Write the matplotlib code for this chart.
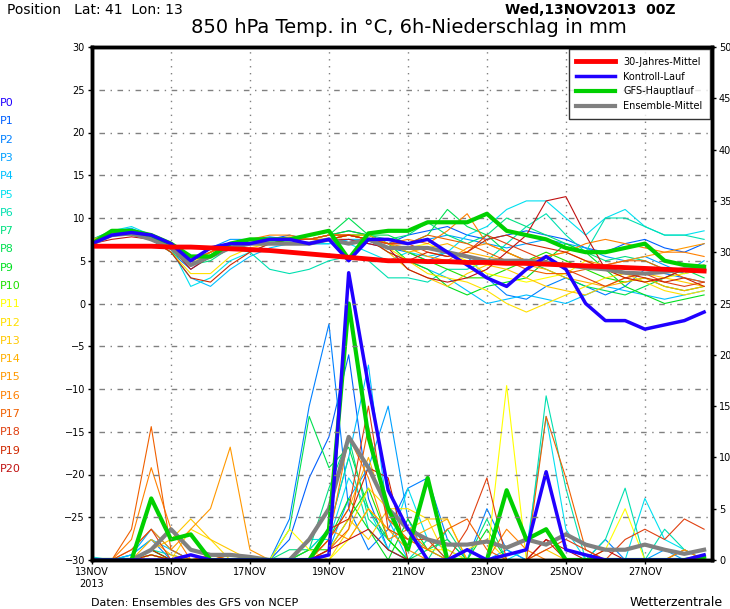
import matplotlib.pyplot as plt

tage = [i * 0.5 for i in range(32)]

klima = [6.7, 6.7, 6.7, 6.7, 6.6, 6.6, 6.5, 6.4, 6.3, 6.2, 6.0, 5.8, 5.6, 5.4, 5.2, 5.0,
         5.0, 4.9, 4.9, 4.8, 4.8, 4.7, 4.7, 4.6, 4.5, 4.4, 4.3, 4.2, 4.1, 4.0, 3.9, 3.8]
kontroll_t = [7, 8, 8.3, 8, 7, 5, 6.5, 7, 7, 7.5, 7.5, 7, 7.5, 5, 7.5, 7.5,
              7, 7.5, 6, 4.5, 3, 2, 4, 5.5, 4, 0, -2, -2, -3, -2.5, -2, -1]
gfs_t = [7, 8.5, 8.5, 8, 7, 5.5, 5.5, 7, 7.5, 7.5, 7.5, 8, 8.5, 5.2, 8.2, 8.5,
         8.5, 9.5, 9.5, 9.5, 10.5, 8.5, 8, 7.5, 6.5, 6, 6, 6.5, 7, 5, 4.5, 4.3]
mittel_t = [7, 8, 8.2, 7.5, 6.5, 4.5, 5.5, 6.5, 7, 7, 7, 7, 7.5, 7, 7.5, 6.5,
            6.5, 6.5, 6, 5.5, 5, 5, 5, 4.8, 4.5, 4.2, 4, 3.6, 3.5, 3.7, 4, 4]

member_t = [
    [7, 8.2, 8.5, 7.5, 6.5, 5, 6, 7, 7.5, 7.5, 8, 7.5, 8, 8.5, 8, 7, 8, 8.5, 9, 8, 7.5, 8, 8.5, 8, 7.5, 6.5, 6, 7, 7.5, 6.5, 6, 7],
    [7, 8, 8.3, 7.5, 6, 4, 5.5, 7, 7, 7.5, 7.5, 7, 7, 7.5, 7, 6.5, 6, 5, 6, 5.5, 3, 1, 0.5, 2, 3, 2, 1, 2, 4, 3.5, 3, 2.5],
    [7.5, 8.5, 8.8, 7.8, 6.5, 5, 6.5, 7.5, 7.5, 7.8, 7.5, 7.5, 8, 8, 7.5, 7, 7, 7.5, 8, 7.5, 7, 6.5, 7, 7.5, 7, 6.5, 5.5, 5, 5.5, 4.5, 3.5, 5],
    [7, 8, 8.5, 7.5, 6, 3, 2, 4, 5.5, 6.5, 7, 7, 7, 7.5, 7.5, 6, 5, 4, 3, 1.5, 0, 0.5, 1, 0.5, 0, 1, 2, 1.5, 1, 0.5, 1, 1.5],
    [7, 8.5, 9, 8, 6.5, 2, 3, 5, 6, 7, 7.5, 7, 7, 7, 6, 5, 6, 5.5, 6, 8, 9, 11, 12, 12, 10, 8, 10, 11, 9, 8, 8, 8.5],
    [7, 8, 8.5, 7.5, 6.5, 4.5, 5.5, 6.5, 6, 4, 3.5, 4, 5, 5.5, 5, 3, 3, 2.5, 4, 4, 5, 7, 9, 10.5, 8, 6, 10, 10, 9, 8, 8, 7.5],
    [7.5, 8.5, 8.5, 7.5, 6, 4.5, 5, 6.5, 7, 7, 7.5, 7, 7.5, 8, 8, 7.5, 8, 9.5, 8, 7, 8, 10, 9, 8, 7, 6, 5, 5.5, 5, 4, 3.5, 4],
    [7, 8, 8.5, 7.5, 6.5, 5, 5.5, 6.5, 7, 7.5, 7.5, 7.5, 8, 10, 8, 8, 7, 8, 11, 9, 8, 6, 5, 4, 3, 2, 1.5, 1, 2, 3, 4, 3],
    [7, 8, 8, 7.5, 6.5, 5, 6, 7, 7.5, 7.5, 7.5, 7.5, 8, 8.5, 8, 7, 5, 4, 2, 1, 2, 2.5, 3, 5, 7, 6, 4, 2, 1, 0, 0.5, 1],
    [7, 8.2, 8.5, 7.5, 6.5, 4.5, 5.5, 6.5, 7, 7, 7.5, 7, 7.5, 8, 8, 7, 6, 5, 4, 3, 3, 4, 5, 6, 5, 4, 3, 2.5, 3, 2, 1.5, 2],
    [7, 8, 8.5, 8, 6.5, 5, 5.5, 6.5, 7.5, 7.5, 7.5, 7.5, 8, 8, 7.5, 6.5, 6.5, 7, 6, 5, 3.5, 3, 2.5, 3, 3.5, 5, 4, 3, 2.5, 3, 3.5, 4],
    [7, 8, 8.2, 7.5, 6, 3.5, 3.5, 5.5, 6.5, 7, 7, 7, 7.5, 8, 7.5, 6.5, 5, 3.5, 3, 2.5, 1.5, 0, -1, 0, 1, 2, 3, 3.5, 2.5, 1.5, 1, 1.5],
    [7, 8, 8.5, 7.5, 6.5, 4.5, 6, 7, 7.5, 7.5, 7.5, 7.5, 7.5, 8, 7.5, 6, 4, 3, 2, 3.5, 4.5, 4, 3, 2, 1.5, 1, 2, 3, 3.5, 3, 2.5, 2],
    [7.5, 8.2, 8.5, 7.5, 6.5, 5, 6, 7, 7.5, 7.5, 7.8, 7.5, 7.5, 8, 8, 7, 6, 6.5, 7, 6, 5.5, 5, 4.5, 4, 3, 2.5, 2, 2.5, 3, 2, 1.5, 2],
    [7, 8, 8.5, 7.5, 6.5, 5, 6, 7, 7, 7.5, 7.5, 7.5, 8, 8, 7.5, 7, 6.5, 5.5, 5, 6.5, 7, 6, 5, 5.5, 6, 5, 4.5, 5, 5.5, 6, 6.5, 7],
    [7, 8.2, 8.5, 7.5, 6.5, 5, 6, 7, 7.5, 8, 8, 7.5, 8, 8, 7.5, 7, 7.5, 7, 8.5, 10.5, 7, 6, 5, 5.5, 6, 7, 7.5, 7, 6.5, 6, 6, 5.5],
    [7, 8, 8.2, 7.5, 6.5, 5, 6, 7, 7.5, 7.5, 7.5, 7.5, 7.5, 8, 7.5, 7, 7, 8, 7.5, 7, 6, 5, 4, 3.5, 3.5, 4, 4.5, 5, 5, 4, 3, 2.5],
    [7, 8, 8.5, 7.5, 6.5, 4.5, 5.5, 6.5, 7.5, 7.5, 7.5, 7.5, 8, 8, 7.5, 7, 7, 6, 5.5, 6, 8, 7, 6, 5, 4, 3, 2, 3, 3.5, 2.5, 2, 2.5],
    [7, 8, 8.2, 7.5, 6, 3, 2.5, 4.5, 6, 7, 7, 7, 7.5, 8, 7.5, 6, 5, 6, 5.5, 6, 7.5, 8, 7, 6.5, 6, 5, 4, 3.5, 3, 2.5, 3, 2],
    [7, 7.5, 7.8, 7.5, 6.5, 4, 5.5, 6.5, 7, 7.5, 7, 7, 7.5, 7.5, 7, 6.5, 4, 3, 2.5, 3, 4, 6, 8, 12, 12.5, 8, 4, 3, 2.5, 3, 4, 4.5],
]

kontroll_p = [0, 0, 0, 0, 0, 0.5, 0, 0, 0, 0, 0, 0, 0.5, 28, 17, 6.8, 3, 0, 0,
              1, 0, 0.5, 1, 8.6, 1, 0.5, 0, 0, 0, 0, 0, 0.5]
gfs_p = [0, 0, 0, 6, 2, 2.5, 0, 0, 0, 0, 0, 0, 3, 25, 12, 5, 1, 8, 0, 0,
         0, 6.8, 2, 3, 0, 0, 0, 0, 0, 0, 0, 0.3]
mittel_p = [0, 0, 0, 1, 3, 1, 0.5, 0.5, 0.3, 0, 0, 2, 5, 12, 9, 5, 3, 2, 1.5, 1.5,
            1.8, 1.2, 2, 1.5, 2.5, 1.5, 1, 1, 1.5, 1, 0.6, 1]

member_p = [
    [0, 0, 0, 0, 0, 0, 0, 0, 0, 0, 2, 8, 12, 20, 6, 1, 0, 0, 0, 0, 0, 0, 0, 0, 0, 0, 0, 0, 0, 0, 1, 0],
    [0, 0, 0.5, 2, 0, 0, 0, 0, 0, 0, 4, 15, 23, 5, 1, 3, 7, 8, 2, 0, 5, 1, 0, 0, 0, 0, 2, 0, 0, 0, 0, 0],
    [0, 0, 0.5, 3, 1, 0, 0, 0, 0, 0, 0, 0, 1, 6, 9, 15, 4, 0, 0, 0, 0, 1, 0, 0, 0, 0, 0, 0, 0, 1, 0, 0],
    [0, 0, 0.5, 2, 1, 0, 0, 0, 0, 0, 0, 1, 3, 10, 19, 4, 0, 0, 0, 0, 0, 0, 0, 0, 0, 0, 0, 0, 0, 0, 0, 0],
    [0.3, 0, 0, 0.5, 0, 0, 0, 0, 0, 0, 0, 2, 2, 8, 5, 1, 7, 2, 0, 1, 0, 0, 1, 14, 3, 0, 0, 0, 6, 2, 1, 0],
    [0, 0, 0, 1, 0.5, 0, 0, 0, 0, 0, 0, 1, 3, 10, 3, 1, 0, 2, 1, 0, 0, 0, 0, 16, 7, 0, 2, 7, 0, 3, 1, 0],
    [0, 0, 0, 0.5, 0, 0, 0, 0, 0, 0, 1, 1, 7, 12, 4, 2, 0, 0, 3, 0, 4, 0, 0, 0, 0, 0, 0, 0, 0, 0, 0, 0],
    [0, 0, 0, 1, 0, 0, 0, 0, 0, 0, 3, 14, 9, 11, 5, 2, 0, 1, 2, 0, 0, 0, 0, 0, 0, 0, 0, 0, 0, 0, 0, 0],
    [0, 0, 0, 1, 0, 0, 0, 0, 0, 0, 0, 0, 2, 6, 3, 0, 4, 1, 0, 0, 3, 0, 0, 0, 0, 0, 0, 0, 0, 0, 0, 0],
    [0, 0, 0, 0.5, 0, 0, 0, 0, 0, 0, 0, 1, 1, 4, 7, 2, 0, 0, 0, 0, 0, 0, 0, 0, 0, 0, 0, 0, 0, 0, 0, 0],
    [0, 0, 0, 0.5, 0, 0.5, 0, 0, 0, 0, 3, 1, 0, 2, 5, 3, 2, 1, 1, 0, 0, 17, 0, 0, 0, 0, 1, 5, 0, 0, 0, 0],
    [0, 0, 0, 0.5, 0, 3, 2, 0, 0, 0, 0, 0, 0, 3, 7, 5, 5, 4, 0, 1, 2, 0, 0, 0, 0, 0, 0, 0, 0, 0, 0, 0],
    [0, 0, 0, 1, 2, 4, 2, 1, 0, 0, 0, 0, 1, 4, 2, 5, 3, 4, 4, 0, 0, 0, 0, 1, 0, 0, 0, 0, 0, 0, 1, 0],
    [0, 0, 0, 2, 0.5, 0, 0.5, 0, 0, 0, 0, 0, 2, 5, 10, 4, 2, 3, 4, 0, 0, 0, 0, 0, 0, 0, 0, 0, 0, 0, 0, 0],
    [0, 0, 1, 3, 1, 3, 5, 11, 1, 0, 0, 0, 3, 2, 5, 3, 1, 0, 0, 0, 0, 0, 0, 0, 0, 0, 0, 0, 0, 0, 0, 0],
    [0, 0, 2, 9, 3, 0, 0.5, 0, 0, 0, 0, 0, 2, 12, 8, 2, 3, 1, 0, 0, 0, 3, 1, 0, 0, 0, 0, 0, 0, 0, 1, 0],
    [0, 0, 3, 13, 1, 0, 0, 0, 0, 0, 0, 0, 1, 3, 13, 4, 2, 1, 3, 4, 1, 0, 0, 14, 8, 1, 0, 0, 0, 0, 0, 0],
    [0, 0, 1, 3, 0, 0, 0, 0.5, 0, 0, 0, 0, 2, 5, 15, 3, 2, 2, 0, 3, 8, 0, 0, 1, 2, 1, 0, 2, 3, 2, 4, 3],
    [0, 0, 0, 1, 0, 0.5, 0, 0, 0, 0, 0, 0, 3, 4, 9, 8, 0, 0, 0, 1, 0, 0, 0, 2, 0, 0, 0, 0, 0, 0, 0, 0],
    [0, 0, 0, 0.5, 0, 0, 0, 0, 0, 0, 0, 0, 1, 2, 3, 1, 0, 0, 0, 0, 0, 0, 0, 2, 1, 0, 1, 0, 0, 0, 0, 0],
]

farben = ["#2000ff", "#0060ff", "#0080ff", "#00a0ff", "#00c0ff", "#00e0f0", "#00e0b0",
          "#00e080", "#00e050", "#00e020", "#20e000", "#ffff00", "#ffe000", "#ffc800",
          "#ffb000", "#ff9800", "#ff8000", "#f06000", "#e04010", "#d02800", "#c01010"]

fig = plt.figure(figsize=(7.3, 6.09), dpi=100)
ax = fig.add_axes([92 / 730, 1 - 560 / 609, 620 / 730, 513 / 609])
ax2 = ax.twinx()

for i in range(20):
    ax2.plot(tage, member_p[i], color=farben[i + 1], lw=0.8)
    ax.plot(tage, member_t[i], color=farben[i + 1], lw=0.8)
ax2.plot(tage, mittel_p, color="#808080", lw=3)
ax2.plot(tage, gfs_p, color="#00d000", lw=3)
ax2.plot(tage, kontroll_p, color="#2000ff", lw=2.5)
ax.plot(tage, mittel_t, color="#808080", lw=3, label="Ensemble-Mittel")
ax.plot(tage, gfs_t, color="#00d000", lw=3, label="GFS-Hauptlauf")
ax.plot(tage, kontroll_t, color="#2000ff", lw=2.5, label="Kontroll-Lauf")
ax.plot(tage, klima, color="#ff0000", lw=3.5, label="30-Jahres-Mittel")
ax.set_zorder(ax2.get_zorder() + 1)
ax.patch.set_visible(False)

ax.set_xlim(0, 15.7)
ax.set_ylim(-30, 30)
ax2.set_ylim(0, 50)
ax.set_yticks(range(-30, 31, 5))
ax2.set_yticks(range(0, 51, 5))
ax.set_xticks(range(0, 15, 2))
ax.set_xticklabels(["13NOV\n2013", "15NOV", "17NOV", "19NOV", "21NOV", "23NOV", "25NOV", "27NOV"])
for a in (ax, ax2):
    a.tick_params(labelsize=7, length=3, width=1, pad=2)
    for s in a.spines.values():
        s.set_linewidth(2.5)
for y in range(-25, 30, 5):
    ax.axhline(y, color="gray", lw=1, ls=(0, (1, 4, 4, 4)), zorder=0)
for x in range(2, 16, 2):
    ax.axvline(x, color="gray", lw=1, ls=(0, (1, 4)), zorder=0)

h, l = ax.get_legend_handles_labels()
ax.legend(h[::-1], l[::-1], loc="upper right", fontsize=7, frameon=True, fancybox=False,
          edgecolor="black", borderpad=0.8, handlelength=4, borderaxespad=0.2)

for i in range(21):
    fig.text(0.0, 1 - (103 + i * 18.3) / 609, "P" + str(i), color=farben[i], fontsize=8, va="center")

fig.text(0.01, 0.995, "Position   Lat: 41  Lon: 13", fontsize=10, va="top")
fig.text(0.925, 0.995, "Wed,13NOV2013  00Z", fontsize=10, va="top", ha="right", weight="bold")
fig.text(0.56, 0.97, "850 hPa Temp. in °C, 6h-Niederschlag in mm", fontsize=14, va="top", ha="center")
fig.text(0.125, 0.005, "Daten: Ensembles des GFS von NCEP", fontsize=8)
fig.text(0.99, 0.005, "Wetterzentrale", fontsize=9, ha="right")

fig.savefig("out.png", dpi=100)
